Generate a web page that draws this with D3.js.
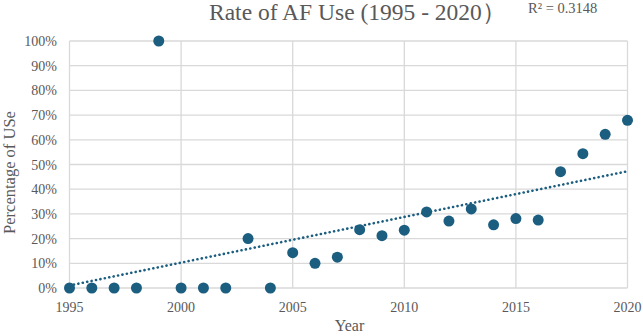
<!DOCTYPE html>
<html><head><meta charset="utf-8">
<script src="https://cdn.jsdelivr.net/npm/d3@7"></script>
<style>body{margin:0;background:#fff}svg{display:block}</style>
</head><body>
<svg id="c" width="643" height="336"></svg>
<script>
const years = [1995,1996,1997,1998,1999,2000,2001,2002,2003,2004,2005,2006,2007,2008,2009,2010,2011,2012,2013,2014,2015,2016,2017,2018,2019,2020];
const values = [0,0,0,0,100,0,0,0,20,0,14.3,10,12.5,23.6,21.2,23.4,30.8,27.1,32,25.6,28.1,27.5,47.1,54.4,62.2,67.9];
const xTicks = [1995,2000,2005,2010,2015,2020];
const yTicks = [0,10,20,30,40,50,60,70,80,90,100];
const title = "Rate of AF Use (1995 - 2020）";
const r2Label = "R² = 0.3148";
const xTitle = "Year";
const yTitle = "Percentage of USe";

const svg = d3.select("#c");
const font = "'Liberation Serif','Times New Roman',serif";
const txt = "#595959";
const grid = "#d9d9d9";
const col = "#1b5e80";
const L=69.5,R=627.5,T=41,B=288;
const x = d3.scaleLinear().domain([1995,2020]).range([L,R]);
const y = d3.scaleLinear().domain([0,100]).range([B,T]);

svg.append("g").selectAll("line").data(yTicks).join("line")
  .attr("x1",L).attr("x2",R).attr("y1",d=>y(d)).attr("y2",d=>y(d))
  .attr("stroke",grid).attr("stroke-width",1.3);
svg.append("g").selectAll("line").data(xTicks).join("line")
  .attr("x1",d=>x(d)).attr("x2",d=>x(d)).attr("y1",T).attr("y2",B)
  .attr("stroke",grid).attr("stroke-width",1.3);

svg.append("g").selectAll("text").data(yTicks).join("text")
  .attr("x",57).attr("y",d=>y(d)+5).attr("text-anchor","end")
  .attr("font-family",font).attr("font-size",14).attr("fill",txt)
  .text(d=>d+"%");
svg.append("g").selectAll("text").data(xTicks).join("text")
  .attr("x",d=>x(d)).attr("y",312).attr("text-anchor","middle")
  .attr("font-family",font).attr("font-size",14).attr("fill",txt)
  .text(d=>d);

// linear regression
const mx=d3.mean(years), my=d3.mean(values);
let sxy=0,sxx=0; years.forEach((v,i)=>{sxy+=(v-mx)*(values[i]-my);sxx+=(v-mx)*(v-mx);});
const slope=sxy/sxx, icpt=my-slope*mx;
const trend=[1995,2020].map(v=>[v,icpt+slope*v]);
svg.append("path").datum(trend)
  .attr("d",d3.line().x(d=>x(d[0])).y(d=>y(d[1])))
  .attr("stroke",col).attr("stroke-width",2.6).attr("stroke-dasharray","0.1,4.4")
  .attr("stroke-linecap","round").attr("fill","none");

svg.append("g").selectAll("circle").data(years).join("circle")
  .attr("cx",d=>x(d)).attr("cy",(d,i)=>y(values[i])).attr("r",5.5).attr("fill",col);

svg.append("text").attr("x",209).attr("y",20)
  .attr("font-family",font).attr("font-size",23.5).attr("fill",txt).text(title);
svg.append("text").attr("x",528).attr("y",13).attr("font-family",font)
  .attr("font-size",14.5).attr("fill",txt).text(r2Label);
svg.append("text").attr("x",349.5).attr("y",331).attr("text-anchor","middle")
  .attr("font-family",font).attr("font-size",16).attr("fill",txt).text(xTitle);
svg.append("text").attr("transform","translate(15,172.5) rotate(-90)").attr("text-anchor","middle")
  .attr("font-family",font).attr("font-size",16.5).attr("fill",txt).text(yTitle);
</script>
</body></html>
